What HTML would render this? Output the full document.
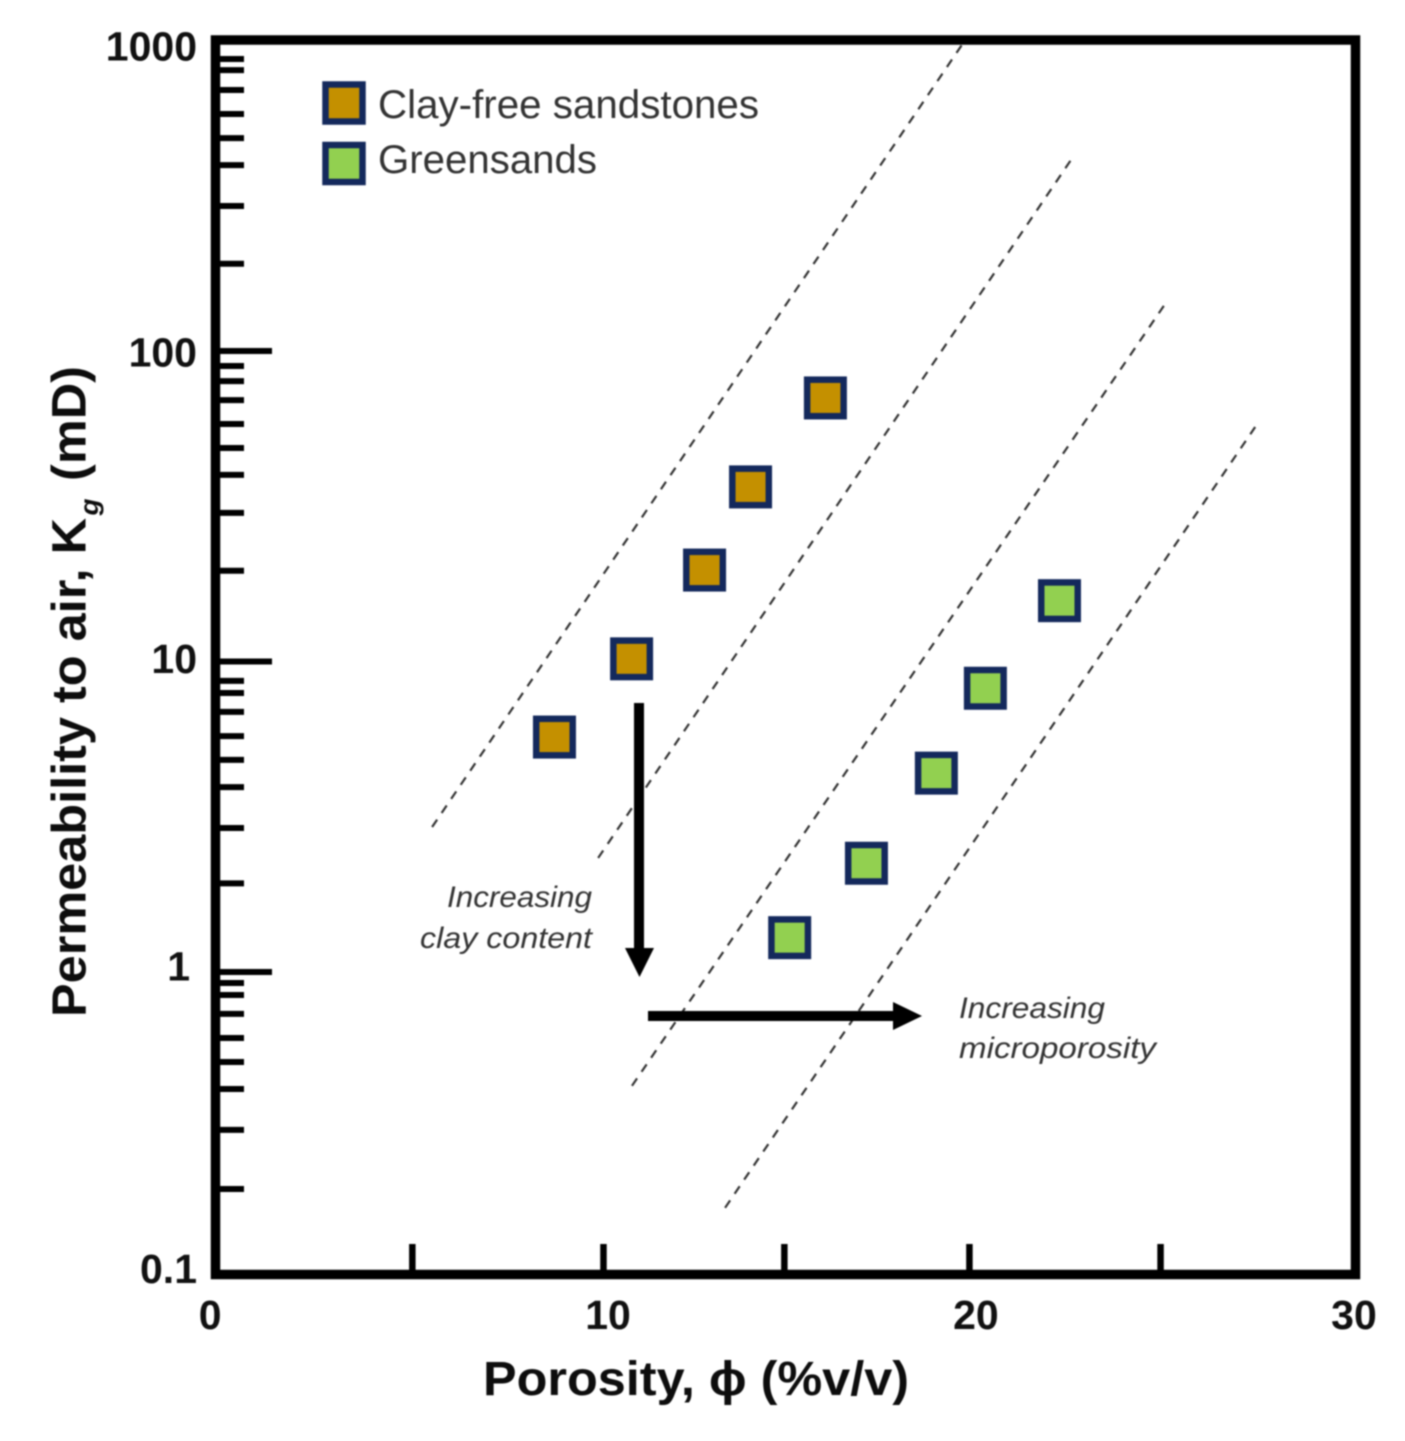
<!DOCTYPE html>
<html lang="en">
<head>
<meta charset="utf-8">
<title>Permeability vs porosity</title>
<style>
html,body{margin:0;padding:0;background:#fff;}
svg{display:block;filter:blur(0.7px);}
text{font-family:"Liberation Sans","DejaVu Sans",sans-serif;}
.tick-label{font-size:41px;font-weight:bold;fill:#111;}
.axis-title{font-size:48px;font-weight:bold;fill:#0d0d0d;}
.legend-text{font-size:40px;fill:#333;}
.note{font-size:30px;font-style:italic;fill:#333;}
</style>
</head>
<body>
<svg id="chart" xmlns="http://www.w3.org/2000/svg" width="1405" height="1441" viewBox="0 0 1405 1441">
  <rect x="0" y="0" width="1405" height="1441" fill="#fff"/>
  <g id="trend-lines"></g>
  <g id="axis-ticks"></g>
  <rect x="215.5" y="40" width="1140" height="1234.5" fill="none" stroke="#000" stroke-width="9.5"/>
  <g id="axis-labels"></g>
  <g id="series-points"></g>

  <text class="axis-title" x="483" y="1395" textLength="426" lengthAdjust="spacingAndGlyphs">Porosity, ϕ (%v/v)</text>
  <g>
    <text class="axis-title" transform="translate(85.5 1017) rotate(-90)" textLength="499" lengthAdjust="spacingAndGlyphs">Permeability to air, K</text>
    <text class="axis-title" style="font-size:26px;font-style:italic" transform="translate(98 515.5) rotate(-90)" textLength="17" lengthAdjust="spacingAndGlyphs">g</text>
    <text class="axis-title" transform="translate(85.5 481) rotate(-90)" textLength="115" lengthAdjust="spacingAndGlyphs">(mD)</text>
  </g>

  <g>
    <g>
      <rect x="325.5" y="84.5" width="37" height="37" fill="#c49000" stroke="#14295c" stroke-width="6.5"/>
      <text class="legend-text" x="378" y="118" textLength="381" lengthAdjust="spacingAndGlyphs">Clay-free sandstones</text>
    </g>
    <g>
      <rect x="325.5" y="145" width="37" height="37" fill="#92d050" stroke="#14295c" stroke-width="6.5"/>
      <text class="legend-text" x="378" y="173" textLength="219" lengthAdjust="spacingAndGlyphs">Greensands</text>
    </g>
  </g>

  <g>
    <rect x="634" y="703" width="10" height="250" fill="#000"/>
    <polygon points="625,948 654,948 639.5,977" fill="#000"/>
    <text class="note" x="447" y="907" textLength="145" lengthAdjust="spacingAndGlyphs">Increasing</text>
    <text class="note" x="420" y="948" textLength="172" lengthAdjust="spacingAndGlyphs">clay content</text>
  </g>
  <g>
    <rect x="648" y="1011" width="250" height="10" fill="#000"/>
    <polygon points="893,1002 893,1030 922,1016" fill="#000"/>
    <text class="note" x="959" y="1018" textLength="146" lengthAdjust="spacingAndGlyphs">Increasing</text>
    <text class="note" x="959" y="1058" textLength="197" lengthAdjust="spacingAndGlyphs">microporosity</text>
  </g>
</svg>

<script>
// Series values (porosity in %v/v, permeability in mD)
const clayFreePorosity = [8.92, 10.95, 12.87, 14.08, 16.05];
const clayFreePermeability = [5.71, 10.2, 19.7, 36.5, 70.6];
const greensandPorosity = [15.11, 17.13, 18.97, 20.26, 22.21];
const greensandPermeability = [1.29, 2.24, 4.37, 8.2, 15.7];

// Dashed trend lines: start and end readings in data units
const trendPorosityStart = [5.70, 10.07, 10.96, 13.41];
const trendPermeabilityStart = [2.93, 2.33, 0.43, 0.174];
const trendPorosityEnd = [19.64, 22.51, 24.96, 27.36];
const trendPermeabilityEnd = [967, 412, 140, 56.9];

// Axis ticks and labels (the source ticks are hand-placed)
const xTickValues = [5.18, 10.21, 14.97, 19.84, 24.87];
const xTickLabels = ['0', '10', '20', '30'];
const xTickLabelValues = [-0.14, 10.33, 20.01, 29.96];
const yDecadeValues = [1000, 100, 10, 1, 0.1];
const yDecadeLabels = ['1000', '100', '10', '1', '0.1'];
const yMinorValues = [
  872, 803, 693, 580, 485, 397, 293, 191,
  89.5, 80, 69.5, 58.2, 48.7, 39.9, 30.1, 19.6,
  8.66, 7.92, 6.88, 5.75, 4.82, 3.94, 2.91, 1.93,
  0.922, 0.843, 0.733, 0.613, 0.513, 0.42, 0.31, 0.2
];

const SVG_NS = 'http://www.w3.org/2000/svg';
const PLOT_LEFT = 215.5, PLOT_RIGHT = 1355.5, PLOT_BOTTOM = 1274.5;
const X_MAX = 30;
const Y_AT_ONE = 972, Y_DECADE = 310.5;

function xScale(v) {
  return PLOT_LEFT + (v / X_MAX) * (PLOT_RIGHT - PLOT_LEFT);
}
function yScale(v) {
  return Math.min(PLOT_BOTTOM, Y_AT_ONE - Y_DECADE * Math.log10(v));
}
function make(tag, parent) {
  const el = document.createElementNS(SVG_NS, tag);
  parent.appendChild(el);
  return el;
}
function setLine(el, x1, y1, x2, y2, width, color) {
  el.setAttribute('x1', x1);
  el.setAttribute('y1', y1);
  el.setAttribute('x2', x2);
  el.setAttribute('y2', y2);
  el.setAttribute('stroke', color);
  el.setAttribute('stroke-width', width);
}

const trendGroup = document.getElementById('trend-lines');
const tickGroup = document.getElementById('axis-ticks');
const labelGroup = document.getElementById('axis-labels');
const pointGroup = document.getElementById('series-points');

trendPorosityStart.forEach(function (p, i) {
  const line = make('line', trendGroup);
  
  
  setLine(line, xScale(p), yScale(trendPermeabilityStart[i]), xScale(trendPorosityEnd[i]), yScale(trendPermeabilityEnd[i]), 2.2, '#333');
  line.setAttribute('stroke-dasharray', '9 8');
});

xTickValues.forEach(function (v, i) {
  const tick = make('line', tickGroup);
  
  
  setLine(tick, xScale(v), 1244, xScale(v), PLOT_BOTTOM, 6.5, '#000');
});

yMinorValues.forEach(function (v) {
  const tick = make('line', tickGroup);
  
  
  setLine(tick, PLOT_LEFT, yScale(v), 244, yScale(v), 6, '#000');
});

yDecadeValues.forEach(function (v) {
  if (v === 1000 || v === 0.1) return;
  const tick = make('line', tickGroup);
  
  
  setLine(tick, PLOT_LEFT, yScale(v), 272, yScale(v), 6, '#000');
});

yDecadeValues.forEach(function (v, i) {
  const label = make('text', labelGroup);
  
  
  label.setAttribute('class', 'tick-label');
  label.setAttribute('x', v === 1 ? 190 : 197);
  label.setAttribute('y', yScale(v) + Math.max(8.5, 7 + 4.3 * Math.log10(v)));
  label.setAttribute('text-anchor', 'end');
  label.textContent = yDecadeLabels[i];
});

xTickLabelValues.forEach(function (v, i) {
  const label = make('text', labelGroup);
  
  
  label.setAttribute('class', 'tick-label');
  label.setAttribute('x', xScale(v));
  label.setAttribute('y', 1329);
  label.setAttribute('text-anchor', 'middle');
  label.textContent = xTickLabels[i];
});

function drawPoint(px, py, fill, name) {
  const size = 36.5;
  const point = make('rect', pointGroup);
  
  
  point.setAttribute('x', xScale(px) - size / 2);
  point.setAttribute('y', yScale(py) - size / 2);
  point.setAttribute('width', size);
  point.setAttribute('height', size);
  point.setAttribute('fill', fill);
  point.setAttribute('stroke', '#14295c');
  point.setAttribute('stroke-width', 6.5);
}

clayFreePorosity.forEach(function (p, i) {
  drawPoint(p, clayFreePermeability[i], '#c49000', 'clay-free-point-' + (i + 1));
});
greensandPorosity.forEach(function (p, i) {
  drawPoint(p, greensandPermeability[i], '#92d050', 'greensand-point-' + (i + 1));
});
</script>
</body>
</html>
